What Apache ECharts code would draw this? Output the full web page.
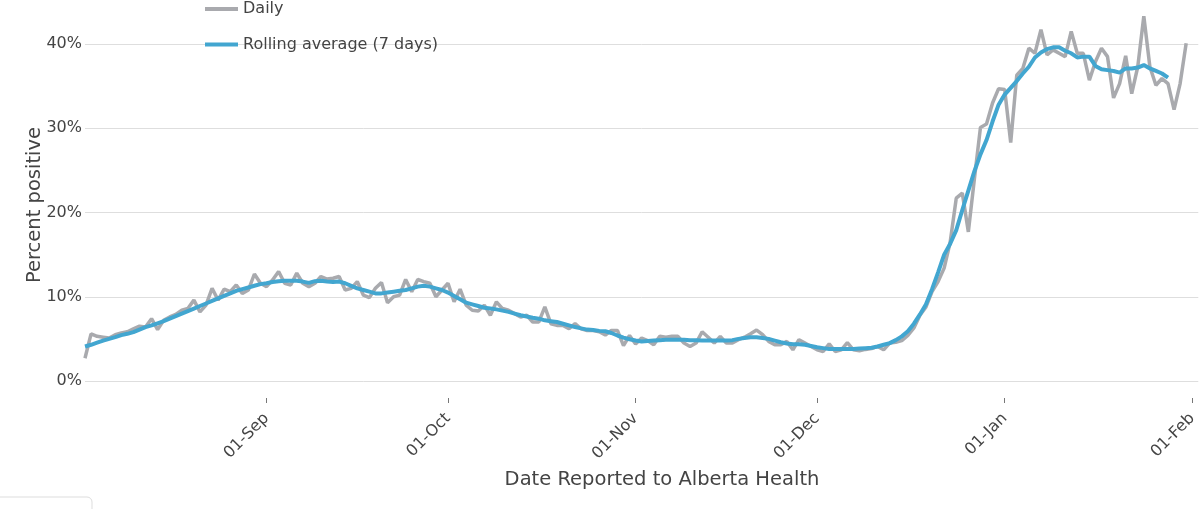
<!DOCTYPE html>
<html>
<head>
<meta charset="utf-8">
<script src="https://cdn.jsdelivr.net/npm/echarts@6/dist/echarts.min.js"></script>
<style>
html,body{margin:0;padding:0;background:#fff;}
#chart{width:1200px;height:509px;}
</style>
</head>
<body>
<div id="chart"></div>
<script>
// First date of the x axis and number of category slots (through 2022-02-02)
const startDate = '2021-08-02';
const dayCount = 185;
const monthNames = ['Jan','Feb','Mar','Apr','May','Jun','Jul','Aug','Sep','Oct','Nov','Dec'];
const yTicks = [0, 10, 20, 30, 40];

// Daily percent positive (2021-08-02 .. 2022-01-31)
const daily = [
  2.7, 5.6, 5.3, 5.2, 5.1, 5.5, 5.7, 5.85, 6.2, 6.5,
  6.4, 7.4, 6.1, 7.2, 7.6, 7.9, 8.4, 8.6, 9.6, 8.2,
  9.0, 11.0, 9.6, 10.9, 10.6, 11.4, 10.4, 10.8, 12.7, 11.6,
  11.2, 12.0, 13.0, 11.6, 11.4, 12.8, 11.6, 11.2, 11.6, 12.4,
  12.1, 12.2, 12.4, 10.8, 11.0, 11.8, 10.2, 9.9, 11.0, 11.7,
  9.3, 10.0, 10.2, 12.05, 10.6, 12.05, 11.8, 11.6, 10.0, 10.8,
  11.6, 9.4, 10.9, 9.0, 8.4, 8.3, 9.0, 7.8, 9.4, 8.6,
  8.4, 8.0, 7.6, 7.8, 7.0, 7.0, 8.8, 6.8, 6.6, 6.6,
  6.2, 6.8, 6.2, 6.0, 6.0, 5.85, 5.45, 6.0, 6.0, 4.2,
  5.4, 4.4, 5.1, 4.8, 4.3, 5.3, 5.2, 5.3, 5.3, 4.5,
  4.1, 4.5, 5.85, 5.2, 4.5, 5.3, 4.5, 4.5, 4.9, 5.2,
  5.6, 6.05, 5.5, 4.7, 4.3, 4.3, 4.7, 3.7, 4.9, 4.5,
  4.1, 3.7, 3.5, 4.4, 3.5, 3.7, 4.55, 3.7, 3.6, 3.75,
  3.85, 4.1, 3.7, 4.5, 4.6, 4.8, 5.4, 6.3, 7.8, 8.8,
  10.6, 11.8, 13.4, 16.5, 21.7, 22.3, 17.7, 24.0, 30.1, 30.5,
  33.0, 34.7, 34.6, 28.3, 36.3, 37.1, 39.5, 38.9, 41.7, 38.7,
  39.3, 38.9, 38.5, 41.5, 38.9, 38.9, 35.7, 37.9, 39.5, 38.5,
  33.6, 35.3, 38.6, 34.1, 37.3, 43.3, 37.3, 35.1, 35.9, 35.3,
  32.2, 35.3, 40.1
];

// 7-day rolling average (2021-08-02 .. 2022-01-28)
const rolling = [
  4.1, 4.3, 4.55, 4.8, 5.0, 5.2, 5.45, 5.6, 5.8, 6.1,
  6.4, 6.6, 6.85, 7.1, 7.4, 7.7, 8.0, 8.3, 8.6, 8.9,
  9.2, 9.5, 9.8, 10.1, 10.4, 10.7, 10.9, 11.1, 11.3, 11.5,
  11.6, 11.75, 11.85, 11.9, 11.9, 11.9, 11.8, 11.65, 11.85, 11.9,
  11.8, 11.75, 11.8, 11.6, 11.3, 11.0, 10.8, 10.6, 10.4, 10.4,
  10.5, 10.6, 10.7, 10.8, 11.0, 11.2, 11.3, 11.2, 11.0, 10.8,
  10.5, 10.1, 9.7, 9.3, 9.1, 8.9, 8.7, 8.6, 8.5, 8.35,
  8.2, 8.0, 7.8, 7.65, 7.5, 7.4, 7.2, 7.1, 7.0, 6.8,
  6.6, 6.4, 6.25, 6.1, 6.05, 5.95, 5.9, 5.7, 5.4, 5.15,
  4.95, 4.8, 4.7, 4.75, 4.8, 4.85, 4.9, 4.9, 4.9, 4.9,
  4.85, 4.85, 4.8, 4.8, 4.8, 4.8, 4.8, 4.85, 5.0, 5.1,
  5.2, 5.2, 5.1, 5.0, 4.8, 4.6, 4.45, 4.35, 4.35, 4.3,
  4.15, 4.0, 3.9, 3.8, 3.8, 3.8, 3.8, 3.8, 3.85, 3.9,
  3.95, 4.1, 4.3, 4.5, 4.85, 5.3, 5.9, 6.8, 7.9, 9.1,
  10.9, 12.9, 15.0, 16.3, 17.9, 20.3, 22.6, 24.9, 26.9, 28.6,
  30.8, 32.8, 34.0, 34.8, 35.6, 36.5, 37.3, 38.4, 39.0, 39.4,
  39.6, 39.6, 39.2, 38.9, 38.4, 38.5, 38.5, 37.4, 37.0, 36.9,
  36.8, 36.6, 37.1, 37.1, 37.2, 37.5, 37.1, 36.8, 36.5, 36.0
];

// category list of dates
const categories = [];
(function(){
  const p = startDate.split('-').map(Number);
  const t0 = Date.UTC(p[0], p[1]-1, p[2]);
  for (let i = 0; i < dayCount; i++) {
    const d = new Date(t0 + i*86400000);
    const mm = String(d.getUTCMonth()+1).padStart(2,'0');
    const dd = String(d.getUTCDate()).padStart(2,'0');
    categories.push(d.getUTCFullYear() + '-' + mm + '-' + dd);
  }
})();

const isMonthStart = function(idx, val){ return String(val).slice(8) === '01'; };
const FONT = '"DejaVu Sans", Verdana, sans-serif';
const TXT = '#444444';

const chart = echarts.init(document.getElementById('chart'), null, {renderer:'canvas'});
chart.setOption({
  animation: false,
  backgroundColor: '#ffffff',
  textStyle: { fontFamily: FONT },
  grid: { left: 85, right: 0, top: 44, bottom: 128, containLabel: false },
  legend: {
    orient: 'vertical',
    left: 205,
    top: 1,
    padding: 0,
    icon: 'rect',
    itemWidth: 33,
    itemHeight: 4,
    itemGap: 19.5,
    textStyle: { fontFamily: FONT, fontSize: 16, color: TXT, lineHeight: 16 },
    data: ['Daily', 'Rolling average (7 days)']
  },
  xAxis: {
    type: 'category',
    data: categories,
    boundaryGap: false,
    offset: 17,
    axisLine: { show: false, onZero: false },
    axisTick: { show: true, interval: isMonthStart, length: 5, lineStyle: { color: '#777', width: 1 } },
    axisLabel: {
      interval: isMonthStart,
      rotate: 45,
      margin: 18,
      fontFamily: FONT,
      fontSize: 16,
      color: TXT,
      formatter: function(v){ return v.slice(8) + '-' + monthNames[Number(v.slice(5,7))-1]; }
    },
    splitLine: { show: false }
  },
  yAxis: {
    type: 'value',
    min: 0,
    max: 40,
    interval: 10,
    axisLine: { show: false },
    axisTick: { show: false },
    axisLabel: {
      margin: 3,
      fontFamily: FONT,
      fontSize: 16,
      color: TXT,
      formatter: function(v){ return yTicks.indexOf(v) >= 0 ? v + '%' : ''; }
    },
    splitLine: { show: true, lineStyle: { color: '#dedede', width: 1 } }
  },
  series: [
    {
      name: 'Daily',
      type: 'line',
      data: daily,
      clip: false,
      showSymbol: false,
      symbol: 'none',
      color: '#a9aaae',
      lineStyle: { color: '#a9aaae', width: 3.5 },
      z: 2
    },
    {
      name: 'Rolling average (7 days)',
      type: 'line',
      data: rolling,
      clip: false,
      showSymbol: false,
      symbol: 'none',
      color: '#42a6d0',
      lineStyle: { color: '#42a6d0', width: 4 },
      z: 3
    }
  ],
  graphic: [
    {
      type: 'text',
      x: 35, y: 205,
      rotation: Math.PI/2,
      style: { text: 'Percent positive', fontFamily: FONT, fontSize: 19.5, fill: TXT, align: 'center', verticalAlign: 'middle' }
    },
    {
      type: 'text',
      x: 662, y: 480,
      style: { text: 'Date Reported to Alberta Health', fontFamily: FONT, fontSize: 19.5, fill: TXT, align: 'center', verticalAlign: 'middle' }
    },
    {
      type: 'rect',
      shape: { x: -6, y: 497, width: 98, height: 24, r: 5 },
      style: { fill: '#ffffff', stroke: '#dddddd', lineWidth: 1 }
    }
  ]
});
</script>
</body>
</html>
